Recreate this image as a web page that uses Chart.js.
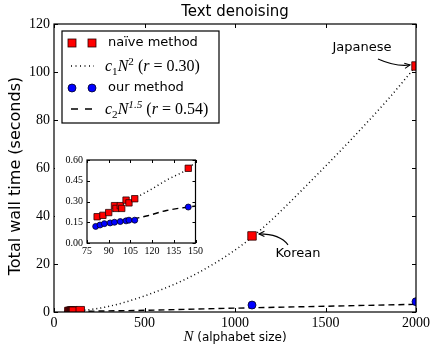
<!DOCTYPE html>
<html>
<head>
<meta charset="utf-8">
<script src="https://cdn.jsdelivr.net/npm/chart.js@4.4.0/dist/chart.umd.min.js"></script>
<style>
  html, body { margin: 0; padding: 0; background: #fff; }
  #wrap { position: relative; width: 436px; height: 349px; }
  #main { position: absolute; left: 0; top: 0; }
  #inset { position: absolute; left: 55px; top: 150px; background: #fff; }
</style>
</head>
<body>
<div id="wrap">
  <canvas id="main" width="436" height="349"></canvas>
  <canvas id="inset" width="150" height="110"></canvas>
</div>
<script>
// values
const naiveN    = [82, 86, 90, 94, 95, 98, 99, 102, 104, 108, 145, 1094, 2000];
const naiveTime = [0.19, 0.20, 0.22, 0.27, 0.25, 0.27, 0.25, 0.31, 0.29, 0.32, 0.54, 31.7, 102.5];

const oursN    = [81, 84, 87, 91, 94, 98, 102, 104, 108, 145, 1094, 2000];
const oursTime = [0.12, 0.13, 0.14, 0.145, 0.15, 0.155, 0.16, 0.165, 0.165, 0.26, 2.9, 4.3];

// fitted curves c1 N^2 and c2 N^1.5, read at a few places
const fitSqN    = [80, 95, 111, 118, 131, 145, 300, 530, 800, 1083, 1451, 1838, 2000];
const fitSqTime = [0.17, 0.24, 0.34, 0.38, 0.46, 0.54, 2.3, 7.5, 16.5, 30.5, 57, 88, 102.5];

const fitPowN    = [80, 100, 116, 130, 145, 500, 1000, 1500, 2000];
const fitPowTime = [0.12, 0.16, 0.195, 0.235, 0.26, 0.7, 1.6, 2.4, 3.2];

const mainXTicks  = [0, 500, 1000, 1500, 2000];
const mainYTicks  = [0, 20, 40, 60, 80, 100, 120];
const insetXTicks = [75, 90, 105, 120, 135, 150];
const insetYTicks = [0, 0.15, 0.30, 0.45, 0.60];

const SANS = "'DejaVu Sans', sans-serif";
const SERIF = "'Liberation Serif', serif";

function pts(xs, ys) {
  return xs.map((x, i) => ({ x: x, y: ys[i] }));
}

function makeDatasets(sq, dot) {
  return [
    {
      label: 'naïve method', data: pts(naiveN, naiveTime),
      pointStyle: 'rect', pointRadius: sq, backgroundColor: '#ff0000',
      borderColor: '#2a0000', borderWidth: 0.8, showLine: false, clip: 0
    },
    {
      label: 'c1 N^2', data: pts(fitSqN, fitSqTime),
      showLine: true, pointRadius: 0, borderColor: '#000', borderWidth: 1.5,
      borderDash: [1, 3], cubicInterpolationMode: 'monotone', clip: 0
    },
    {
      label: 'our method', data: pts(oursN, oursTime),
      pointStyle: 'circle', pointRadius: dot, backgroundColor: '#0000ff',
      borderColor: '#000020', borderWidth: 0.8, showLine: false, clip: 0
    },
    {
      label: 'c2 N^1.5', data: pts(fitPowN, fitPowTime),
      showLine: true, pointRadius: 0, borderColor: '#000', borderWidth: 1.4,
      borderDash: [6, 4], cubicInterpolationMode: 'monotone', clip: 0
    }
  ];
}

// inward ticks on all four sides plus a closed frame
const frameTicks = {
  id: 'frameTicks',
  afterDatasetsDraw(chart, args, opts) {
    const { ctx, chartArea: a, scales: { x, y } } = chart;
    const len = opts.len;
    ctx.save();
    ctx.strokeStyle = '#000';
    ctx.lineWidth = 1;
    ctx.beginPath();
    x.ticks.forEach(t => {
      const px = Math.round(x.getPixelForValue(t.value)) + 0.5;
      ctx.moveTo(px, a.bottom); ctx.lineTo(px, a.bottom - len);
      ctx.moveTo(px, a.top); ctx.lineTo(px, a.top + len);
    });
    y.ticks.forEach(t => {
      const py = Math.round(y.getPixelForValue(t.value)) + 0.5;
      ctx.moveTo(a.left, py); ctx.lineTo(a.left + len, py);
      ctx.moveTo(a.right, py); ctx.lineTo(a.right - len, py);
    });
    ctx.stroke();
    ctx.lineWidth = 1.2;
    ctx.strokeRect(a.left, a.top, a.right - a.left, a.bottom - a.top);
    ctx.restore();
  }
};

// draws a run of text pieces, some italic, some raised or lowered
function drawMath(ctx, parts, x, y, size) {
  let cx = x;
  parts.forEach(p => {
    let fs = size, dy = 0;
    if (p.sub) { fs = size * 0.7; dy = size * 0.22; }
    if (p.sup) { fs = size * 0.7; dy = -size * 0.38; }
    const fam = p.sans ? SANS : SERIF;
    ctx.font = (p.it ? 'italic ' : '') + fs + 'px ' + fam;
    ctx.fillText(p.t, cx, y + dy);
    cx += ctx.measureText(p.t).width;
  });
  return cx - x;
}

function arrow(ctx, x0, y0, cx, cy, x1, y1) {
  ctx.beginPath();
  ctx.moveTo(x0, y0);
  ctx.quadraticCurveTo(cx, cy, x1, y1);
  ctx.stroke();
  const ang = Math.atan2(y1 - cy, x1 - cx);
  const L = 6;
  ctx.beginPath();
  ctx.moveTo(x1 - L * Math.cos(ang - 0.45), y1 - L * Math.sin(ang - 0.45));
  ctx.lineTo(x1, y1);
  ctx.lineTo(x1 - L * Math.cos(ang + 0.45), y1 - L * Math.sin(ang + 0.45));
  ctx.stroke();
}

const decorations = {
  id: 'decorations',
  afterDraw(chart) {
    const { ctx, chartArea: a, scales: { x, y } } = chart;
    ctx.save();
    ctx.fillStyle = '#000';
    ctx.strokeStyle = '#000';

    // title
    ctx.font = '15px ' + SANS;
    ctx.textAlign = 'center';
    ctx.textBaseline = 'alphabetic';
    ctx.fillText('Text denoising', (a.left + a.right) / 2, 16);

    // y axis title
    ctx.save();
    ctx.translate(20, 176);
    ctx.rotate(-Math.PI / 2);
    ctx.font = '16px ' + SANS;
    ctx.fillText('Total wall time (seconds)', 0, 0);
    ctx.restore();

    // x axis title
    ctx.textAlign = 'left';
    ctx.font = 'italic 15px ' + SERIF;
    const wN = ctx.measureText('N').width;
    ctx.font = '12px ' + SANS;
    const wRest = ctx.measureText(' (alphabet size)').width;
    const cx = (a.left + a.right) / 2 - (wN + wRest) / 2;
    ctx.font = 'italic 15px ' + SERIF;
    ctx.fillText('N', cx, 341);
    ctx.font = '12px ' + SANS;
    ctx.fillText(' (alphabet size)', cx + wN, 341);

    // annotations
    const jx = x.getPixelForValue(naiveN[12]), jy = y.getPixelForValue(naiveTime[12]);
    const kx = x.getPixelForValue(naiveN[11]), ky = y.getPixelForValue(naiveTime[11]);
    ctx.font = '13px ' + SANS;
    ctx.textAlign = 'center';
    ctx.textBaseline = 'middle';
    ctx.fillText('Japanese', jx - 54, jy - 18);
    ctx.fillText('Korean', kx + 46, ky + 18);
    ctx.lineWidth = 1.1;
    arrow(ctx, jx - 38, jy - 7, jx - 20, jy + 1, jx - 6, jy - 1);
    arrow(ctx, kx + 36, ky + 9, kx + 28, ky - 2, kx + 7, ky - 2);

    // legend
    const lx = a.left + 8, ly = a.top + 7, lw = 157, lh = 92;
    ctx.fillStyle = '#fff';
    ctx.fillRect(lx, ly, lw, lh);
    ctx.lineWidth = 1.2;
    ctx.strokeStyle = '#000';
    ctx.strokeRect(lx, ly, lw, lh);

    const s1 = lx + 10, s2 = lx + 30, tx = lx + 46;
    const rows = [ly + 12, ly + 35, ly + 57, ly + 78];

    // naive squares
    ctx.fillStyle = '#ff0000';
    ctx.strokeStyle = '#2a0000';
    ctx.lineWidth = 0.8;
    [s1, s2].forEach(px => {
      ctx.fillRect(px - 4, rows[0] - 4, 8, 8);
      ctx.strokeRect(px - 4, rows[0] - 4, 8, 8);
    });
    // dotted sample
    ctx.strokeStyle = '#000';
    ctx.lineWidth = 1.4;
    ctx.setLineDash([1, 3.5]);
    ctx.beginPath(); ctx.moveTo(s1 - 1, rows[1]); ctx.lineTo(s2 + 2, rows[1]); ctx.stroke();
    // dashed sample
    ctx.setLineDash([7, 7]);
    ctx.lineWidth = 1.4;
    ctx.beginPath(); ctx.moveTo(s1 - 1, rows[3]); ctx.lineTo(s2 + 2, rows[3]); ctx.stroke();
    ctx.setLineDash([]);
    // blue circles
    ctx.fillStyle = '#0000ff';
    ctx.strokeStyle = '#000020';
    ctx.lineWidth = 0.8;
    [s1, s2].forEach(px => {
      ctx.beginPath(); ctx.arc(px, rows[2], 4, 0, Math.PI * 2); ctx.fill(); ctx.stroke();
    });

    ctx.fillStyle = '#000';
    ctx.textAlign = 'left';
    ctx.textBaseline = 'middle';
    ctx.font = '13px ' + SANS;
    ctx.fillText('naïve method', tx, rows[0]);
    ctx.fillText('our method', tx, rows[2]);
    ctx.textBaseline = 'alphabetic';
    drawMath(ctx, [
      { t: 'c', it: true }, { t: '1', sub: true }, { t: 'N', it: true }, { t: '2', sup: true },
      { t: ' (' }, { t: 'r', it: true }, { t: ' = 0.30)' }
    ], tx - 3, rows[1] + 5, 16);
    drawMath(ctx, [
      { t: 'c', it: true }, { t: '2', sub: true }, { t: 'N', it: true }, { t: '1.5', sup: true, it: true },
      { t: ' (' }, { t: 'r', it: true }, { t: ' = 0.54)' }
    ], tx - 3, rows[3] + 5, 16);

    ctx.restore();
  }
};

function tickSetter(list) {
  return scale => { scale.ticks = list.map(v => ({ value: v })); };
}

new Chart(document.getElementById('main').getContext('2d'), {
  type: 'scatter',
  data: { datasets: makeDatasets(6, 4) },
  options: {
    responsive: false,
    animation: false,
    layout: { padding: { left: 0, top: 24, right: 20, bottom: 0 } },
    plugins: { legend: { display: false }, tooltip: { enabled: false }, frameTicks: { len: 4 } },
    scales: {
      x: {
        type: 'linear', min: 0, max: 2000,
        afterBuildTicks: tickSetter(mainXTicks),
        afterFit: s => { s.height = 37; },
        grid: { display: false, drawTicks: false }, border: { display: false },
        ticks: { color: '#000', padding: 3, font: { family: SERIF, size: 14 }, callback: v => String(v) }
      },
      y: {
        type: 'linear', min: 0, max: 120,
        afterBuildTicks: tickSetter(mainYTicks),
        afterFit: s => { s.width = 54; },
        grid: { display: false, drawTicks: false }, border: { display: false },
        ticks: { color: '#000', padding: 4, font: { family: SERIF, size: 14 }, callback: v => String(v) }
      }
    }
  },
  plugins: [frameTicks, decorations]
});

new Chart(document.getElementById('inset').getContext('2d'), {
  type: 'scatter',
  data: { datasets: makeDatasets(4.5, 3) },
  options: {
    responsive: false,
    animation: false,
    layout: { padding: { left: 0, top: 7, right: 9, bottom: 0 } },
    plugins: { legend: { display: false }, tooltip: { enabled: false }, frameTicks: { len: 3 } },
    scales: {
      x: {
        type: 'linear', min: 75, max: 150,
        afterBuildTicks: tickSetter(insetXTicks),
        afterFit: s => { s.height = 17; },
        grid: { display: false, drawTicks: false }, border: { display: false },
        ticks: { color: '#000', padding: 2, font: { family: SERIF, size: 10 }, callback: v => String(v) }
      },
      y: {
        type: 'linear', min: 0, max: 0.6,
        afterBuildTicks: tickSetter(insetYTicks),
        afterFit: s => { s.width = 32; },
        grid: { display: false, drawTicks: false }, border: { display: false },
        ticks: {
          color: '#000', padding: 4, font: { family: SERIF, size: 10 },
          callback: v => Number(v).toFixed(2)
        }
      }
    }
  },
  plugins: [frameTicks]
});
</script>
</body>
</html>
